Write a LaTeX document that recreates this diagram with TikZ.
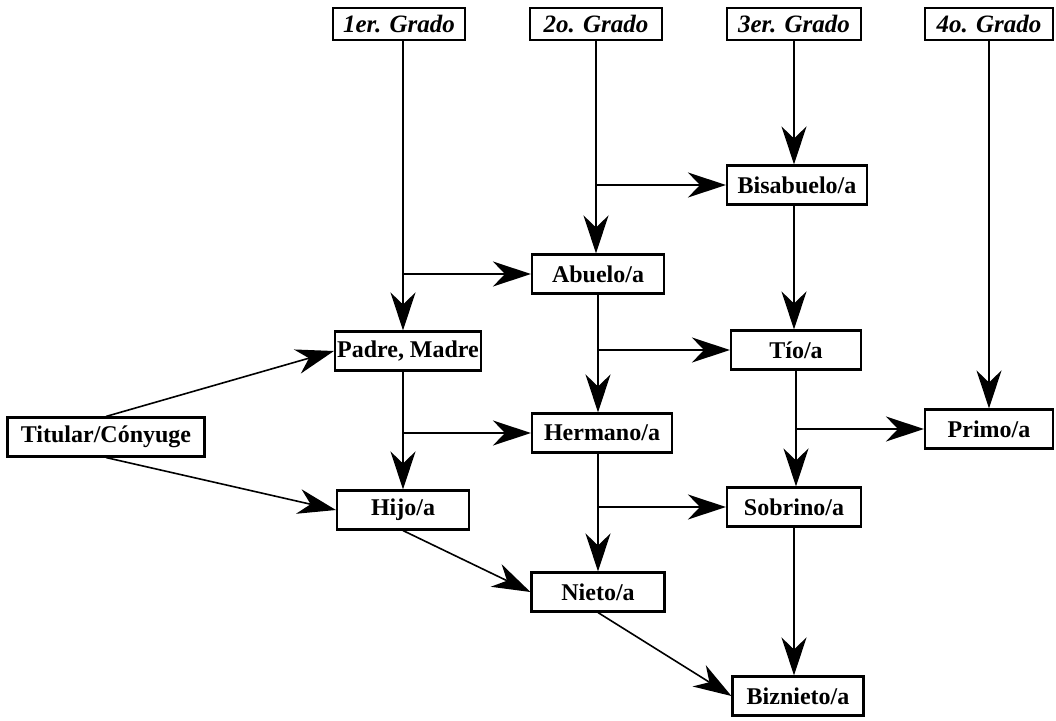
\documentclass[tikz,border=0pt]{standalone}
\usepackage{fontspec}
\setmainfont{Liberation Serif}
\usetikzlibrary{arrows.meta}
\begin{document}
\begin{tikzpicture}[x=1pt,y=-1pt,
  box/.style={draw, line width=2.1pt, inner sep=0pt, font=\fontsize{24}{28}\selectfont\bfseries, minimum height=39pt},
  grado/.style={box, font=\fontsize{25}{28}\selectfont\bfseries\itshape, minimum height=32pt},
  arr/.style={line width=1.6pt, -{Stealth[length=38pt,width=25pt,inset=12pt]}}]
\useasboundingbox (0,0) rectangle (1056,720);
% grade headers
\node[grado, minimum width=132pt] (g1) at (399,24) {1er. Grado};
\node[grado, minimum width=132pt] (g2) at (596,24) {2o. Grado};
\node[grado, minimum width=134pt] (g3) at (794,24) {3er. Grado};
\node[grado, minimum width=128pt] (g4) at (989,24) {4o. Grado};
% relatives
\node[box, minimum width=140pt] (bisabuelo) at (797,185) {Bisabuelo/a};
\node[box, minimum width=132pt] (abuelo) at (598,274) {Abuelo/a};
\node[box, minimum width=130pt] (tio) at (796,350) {Tío/a};
\node[box, minimum width=146pt] (padre) at (408,351) {Padre, Madre};
\node[box, minimum width=197pt] (titular) at (106,437) {Titular/Cónyuge};
\node[box, minimum width=140pt] (hermano) at (602,433) {Hermano/a};
\node[box, minimum width=128pt] (primo) at (989,429) {Primo/a};
\node[box, minimum width=132pt] (hijo) at (403,510) {Hijo/a};
\node[box, minimum width=134pt] (sobrino) at (794,507) {Sobrino/a};
\node[box, minimum width=133pt] (nieto) at (598,592) {Nieto/a};
\node[box, minimum width=131pt] (biznieto) at (798,696) {Biznieto/a};
% junctions on the vertical lines
\coordinate (c1) at (g1.south -| hijo.north);
\coordinate (j1) at (c1 |- abuelo.west);
\coordinate (j2) at (g2.south |- bisabuelo.west);
\coordinate (j3) at (abuelo.south |- tio.west);
\coordinate (j4) at (hijo.north |- hermano.west);
\coordinate (j5) at (tio.south |- primo.west);
\coordinate (j6) at (abuelo.south |- sobrino.west);
% vertical connectors
\draw[arr] (c1) -- (c1 |- padre.north);
\draw[arr] (g2.south) -- (g2.south |- abuelo.north);
\draw[arr] (g3.south) -- (g3.south |- bisabuelo.north);
\draw[arr] (g4.south) -- (g4.south |- primo.north);
\draw[arr] (g3.south |- bisabuelo.south) -- (g3.south |- tio.north);
\draw[arr] (abuelo.south) -- (abuelo.south |- hermano.north);
\draw[arr] (hijo.north |- padre.south) -- (hijo.north);
\draw[arr] (tio.south) -- (tio.south |- sobrino.north);
\draw[arr] (abuelo.south |- hermano.south) -- (nieto.north);
\draw[arr] (sobrino.south) -- (sobrino.south |- biznieto.north);
% horizontal branches
\draw[arr] (j1) -- (abuelo.west);
\draw[arr] (j2) -- (bisabuelo.west);
\draw[arr] (j3) -- (tio.west);
\draw[arr] (j4) -- (hermano.west);
\draw[arr] (j5) -- (primo.west);
\draw[arr] (j6) -- (sobrino.west);
% diagonal connectors
\draw[arr] (titular.north) -- (padre.west);
\draw[arr] (titular.south) -- (hijo.west);
\draw[arr] (hijo.south) -- (nieto.west);
\draw[arr] (nieto.south) -- (biznieto.west);
\end{tikzpicture}
\end{document}
